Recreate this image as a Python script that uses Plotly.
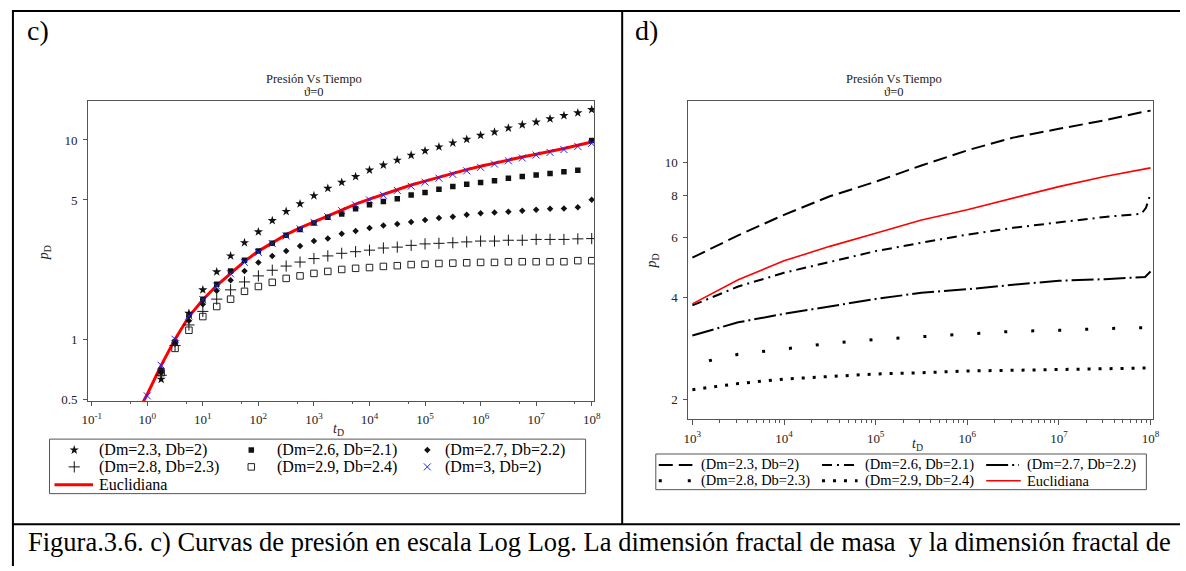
import plotly.graph_objects as go

W, H = 1186, 571
SERIF = "Liberation Serif, Times New Roman, serif"

# ---------------- panel c : sampled points (log10 tD exponents) ----------------
exp_c = [0.25, 0.5, 0.75, 1.0, 1.25, 1.5, 1.75, 2.0, 2.25, 2.5, 2.75, 3.0,
         3.25, 3.5, 3.75, 4.0, 4.25, 4.5, 4.75, 5.0, 5.25, 5.5, 5.75, 6.0,
         6.25, 6.5, 6.75, 7.0, 7.25, 7.5, 7.75, 8.0]

pd_23_c = [0.63, 0.97, 1.35, 1.77, 2.18, 2.62, 3.05, 3.46, 3.94, 4.38, 4.78, 5.25,
           5.72, 6.13, 6.55, 7.06, 7.48, 7.92, 8.38, 8.82, 9.23, 9.66, 10.07, 10.55,
           10.96, 11.48, 11.92, 12.30, 12.77, 13.26, 13.68, 14.20]
pd_26_c = [0.70, 0.97, 1.32, 1.59, 1.89, 2.20, 2.49, 2.77, 3.03, 3.33, 3.55, 3.83,
           4.09, 4.25, 4.52, 4.73, 4.91, 5.07, 5.30, 5.45, 5.66, 5.84, 6.00, 6.11,
           6.25, 6.42, 6.55, 6.67, 6.78, 6.93, 7.04, 9.95]
pd_27_c = [0.68, 0.95, 1.24, 1.50, 1.75, 1.98, 2.20, 2.43, 2.62, 2.77, 2.94, 3.11,
           3.20, 3.38, 3.49, 3.62, 3.72, 3.79, 3.88, 3.97, 4.06, 4.12, 4.22, 4.29,
           4.32, 4.37, 4.42, 4.47, 4.52, 4.53, 4.59, 5.01]
pd_28_c = [0.66, 0.93, 1.18, 1.38, 1.59, 1.77, 1.94, 2.08, 2.22, 2.33, 2.44, 2.54,
           2.62, 2.70, 2.75, 2.80, 2.87, 2.90, 2.96, 3.01, 3.03, 3.05, 3.08, 3.11,
           3.11, 3.14, 3.14, 3.17, 3.17, 3.17, 3.19, 3.20]
pd_29_c = [0.68, 0.90, 1.11, 1.30, 1.46, 1.59, 1.74, 1.84, 1.93, 2.02, 2.08, 2.14,
           2.19, 2.24, 2.27, 2.29, 2.32, 2.34, 2.37, 2.38, 2.40, 2.41, 2.42, 2.43,
           2.43, 2.45, 2.45, 2.45, 2.45, 2.45, 2.48, 2.48]

exp_c3 = [0.0] + exp_c
pd_30_c = [0.52, 0.74, 1.00, 1.31, 1.58, 1.85, 2.13, 2.43, 2.73, 3.02, 3.30, 3.58,
           3.86, 4.12, 4.42, 4.72, 5.00, 5.28, 5.58, 5.86, 6.14, 6.43, 6.72, 7.00,
           7.29, 7.57, 7.86, 8.12, 8.40, 8.66, 8.95, 9.28, 9.62]

exp_eu_c = [-0.1, 0.0] + exp_c
pd_eu_c = [0.47, 0.53, 0.74, 1.00, 1.30, 1.58, 1.86, 2.15, 2.46, 2.77, 3.06, 3.35,
           3.62, 3.88, 4.15, 4.46, 4.77, 5.05, 5.34, 5.65, 5.94, 6.22, 6.51, 6.81,
           7.10, 7.38, 7.67, 7.96, 8.22, 8.48, 8.75, 9.06, 9.40, 9.77]

# ---------------- panel d : curves for tD >= 1e3 ----------------
exp_d = [3.0, 3.5, 4.0, 4.5, 5.0, 5.5, 6.0, 6.5, 7.0, 7.5, 7.9, 8.0]
pd_23_d = [5.24, 6.10, 7.01, 7.95, 8.78, 9.80, 10.86, 11.84, 12.57, 13.32, 14.06, 14.22]

exp_26_d = [3.0, 3.5, 4.0, 4.5, 5.0, 5.5, 6.0, 6.5, 7.0, 7.5, 7.9, 7.95, 8.0]
pd_26_d = [3.79, 4.31, 4.73, 5.10, 5.48, 5.80, 6.13, 6.42, 6.67, 6.91, 7.06, 7.35, 8.11]

exp_27_d = [3.0, 3.5, 4.0, 4.5, 5.0, 5.5, 6.0, 6.5, 7.0, 7.5, 7.94, 8.0]
pd_27_d = [3.09, 3.38, 3.58, 3.77, 3.96, 4.13, 4.23, 4.36, 4.48, 4.53, 4.60, 4.77]

exp_lo_d = [3.0, 3.5, 4.0, 4.5, 5.0, 5.5, 6.0, 6.5, 7.0, 7.5, 8.0]
pd_28_d = [2.54, 2.72, 2.82, 2.93, 3.01, 3.07, 3.13, 3.18, 3.20, 3.24, 3.26]
pd_29_d = [2.14, 2.23, 2.30, 2.34, 2.38, 2.40, 2.43, 2.44, 2.45, 2.46, 2.48]
pd_eu_d = [3.83, 4.51, 5.13, 5.66, 6.19, 6.77, 7.26, 7.86, 8.49, 9.09, 9.64]

# legend labels
lab_23 = "(Dm=2.3, Db=2)"
lab_26 = "(Dm=2.6, Db=2.1)"
lab_27 = "(Dm=2.7, Db=2.2)"
lab_28 = "(Dm=2.8, Db=2.3)"
lab_29 = "(Dm=2.9, Db=2.4)"
lab_30 = "(Dm=3, Db=2)"
lab_eu = "Euclidiana"

caption = ("Figura.3.6. c) Curvas de presión en escala Log Log. "
           "La dimensión fractal de masa  y la dimensión fractal de")

c_xticks = [-1, 0, 1, 2, 3, 4, 5, 6, 7, 8]
c_yticks = [0.5, 1, 5, 10]
d_xticks = [3, 4, 5, 6, 7, 8]
d_yticks = [2, 4, 6, 8, 10]


def tvals(exps):
    return [10 ** e for e in exps]


# marker styles shared by the plot and its legend
M_23 = dict(symbol="star", size=7, color="#111")
M_26 = dict(symbol="square", size=5.5, color="#111")
M_27 = dict(symbol="diamond", size=5, color="#111")
M_28 = dict(symbol="cross-thin", size=8, line=dict(color="#111", width=1))
M_29 = dict(symbol="square-open", size=6.5, color="#222", line=dict(width=1))
M_30 = dict(symbol="x-thin", size=7, line=dict(color="#2020ff", width=1))

fig = go.Figure()

# ---- panel c markers ----
mk = dict(mode="markers", xaxis="x", yaxis="y", showlegend=False, hoverinfo="skip")
fig.add_trace(go.Scatter(x=tvals(exp_eu_c), y=pd_eu_c, mode="lines", xaxis="x", yaxis="y",
                         line=dict(color="#ff0000", width=3), showlegend=False))
fig.add_trace(go.Scatter(x=tvals(exp_c), y=pd_23_c, marker=M_23, **mk))
fig.add_trace(go.Scatter(x=tvals(exp_c), y=pd_26_c, marker=M_26, **mk))
fig.add_trace(go.Scatter(x=tvals(exp_c), y=pd_27_c, marker=M_27, **mk))
fig.add_trace(go.Scatter(x=tvals(exp_c), y=pd_28_c, marker=M_28, **mk))
fig.add_trace(go.Scatter(x=tvals(exp_c), y=pd_29_c, marker=M_29, **mk))
fig.add_trace(go.Scatter(x=tvals(exp_c3), y=pd_30_c, marker=M_30, **mk))

# ---- panel d curves ----
DASH_23 = "14px,6px"
DASH_26 = "10px,5px,2px,5px"
DASH_27 = "22px,4px,2px,4px"
DASH_28 = "0px,17px,3px,7px"
DASH_29 = "3px,8px"
ln = dict(mode="lines", xaxis="x2", yaxis="y2", showlegend=False, hoverinfo="skip")
fig.add_trace(go.Scatter(x=tvals(exp_d), y=pd_23_d, line=dict(color="black", width=2, dash=DASH_23), **ln))
fig.add_trace(go.Scatter(x=tvals(exp_26_d), y=pd_26_d, line=dict(color="black", width=2, dash=DASH_26), **ln))
fig.add_trace(go.Scatter(x=tvals(exp_27_d), y=pd_27_d, line=dict(color="black", width=2, dash=DASH_27), **ln))
fig.add_trace(go.Scatter(x=tvals(exp_lo_d), y=pd_28_d, line=dict(color="black", width=3, dash=DASH_28), **ln))
fig.add_trace(go.Scatter(x=tvals(exp_lo_d), y=pd_29_d, line=dict(color="black", width=3, dash=DASH_29), **ln))
fig.add_trace(go.Scatter(x=tvals(exp_lo_d), y=pd_eu_d, line=dict(color="#ff0000", width=1.6), **ln))

# ---- legend samples drawn on a page-sized overlay axis (pixel units) ----
ov = dict(xaxis="x3", yaxis="y3", showlegend=False, hoverinfo="skip")
for (px, py), m in [((68, 454), M_23), ((247, 454), M_26), ((425, 454), M_27),
                    ((68, 471), M_28), ((247, 471), M_29), ((425, 471), M_30)]:
    fig.add_trace(go.Scatter(x=[px], y=[py], mode="markers", marker=m, **ov))
fig.add_trace(go.Scatter(x=[48, 87], y=[489, 489], mode="lines", line=dict(color="#ff0000", width=3), **ov))

fig.add_trace(go.Scatter(x=[659, 693], y=[469, 469], mode="lines", line=dict(color="black", width=2, dash=DASH_23), **ov))
fig.add_trace(go.Scatter(x=[824, 859], y=[469, 469], mode="lines", line=dict(color="black", width=2, dash=DASH_26), **ov))
fig.add_trace(go.Scatter(x=[990, 1023], y=[469, 469], mode="lines", line=dict(color="black", width=2, dash=DASH_27), **ov))
fig.add_trace(go.Scatter(x=[659, 693], y=[485, 485], mode="lines", line=dict(color="black", width=3, dash="3px,26px"), **ov))
fig.add_trace(go.Scatter(x=[824, 860], y=[485, 485], mode="lines", line=dict(color="black", width=3, dash=DASH_29), **ov))
fig.add_trace(go.Scatter(x=[990, 1025], y=[485, 485], mode="lines", line=dict(color="#ff0000", width=1.6), **ov))


def fx(px):
    return px / W


def fy(py):
    return 1 - py / H


tickfont = dict(family=SERIF, size=13, color="#222")
axis_common = dict(type="log", showgrid=False, zeroline=False, showline=True, mirror=True,
                   linecolor="#555", linewidth=1, ticks="outside", tickcolor="#555",
                   tickfont=tickfont, fixedrange=True)

fig.update_layout(
    width=W, height=H,
    margin=dict(l=0, r=0, t=0, b=0),
    paper_bgcolor="white", plot_bgcolor="rgba(0,0,0,0)",
    showlegend=False,
    xaxis=dict(axis_common, domain=[fx(82), fx(594)], range=[-1.065, 8.05], anchor="y",
               tickvals=[10 ** e for e in c_xticks],
               ticktext=[f"10<sup>{e}</sup>" for e in c_xticks],
               ticklen=4, ticklabelstandoff=2,
               minor=dict(tickvals=[5 * 10 ** e for e in c_xticks[:-1]], ticklen=2,
                          ticks="outside", tickcolor="#555")),
    yaxis=dict(axis_common, domain=[fy(405), fy(102)], range=[-0.312, 1.195], anchor="x",
               tickvals=c_yticks, ticktext=[str(v) for v in c_yticks],
               ticklen=4, ticklabelstandoff=3),
    xaxis2=dict(axis_common, domain=[fx(689), fx(1159)], range=[2.957, 8.03], anchor="y2",
                tickvals=[10 ** e for e in d_xticks],
                ticktext=[f"10<sup>{e}</sup>" for e in d_xticks],
                ticklen=5, ticklabelstandoff=2,
                minor=dict(dtick="D1", ticklen=3, ticks="outside", tickcolor="#555")),
    yaxis2=dict(axis_common, domain=[fy(423), fy(102)], range=[0.243, 1.181], anchor="x2",
                tickvals=d_yticks, ticktext=[str(v) for v in d_yticks],
                ticklen=4, ticklabelstandoff=3),
    xaxis3=dict(domain=[0, 1], range=[0, W], visible=False, fixedrange=True, anchor="y3"),
    yaxis3=dict(domain=[0, 1], range=[H, 0], visible=False, fixedrange=True, anchor="x3"),
)

# ---- page frame (table rules) and legend boxes ----
rule = dict(type="line", xref="x3", yref="y3", line=dict(color="black", width=2), layer="above")
shapes = [
    dict(rule, x0=5, x1=W, y0=11, y1=11),
    dict(rule, x0=6, x1=6, y0=11, y1=H),
    dict(rule, x0=622, x1=622, y0=11, y1=529),
    dict(rule, x0=6, x1=W, y0=529, y1=529),
    dict(type="rect", xref="x3", yref="y3", x0=43, x1=585, y0=443, y1=498,
         line=dict(color="#555", width=1), layer="below"),
    dict(type="rect", xref="x3", yref="y3", x0=656, x1=1152, y0=458, y1=494,
         line=dict(color="#555", width=1), layer="below"),
]
fig.update_layout(shapes=shapes)


def txt(x, y, s, size, xanchor="center", angle=0, color="black"):
    return dict(x=x, y=y, xref="x3", yref="y3", text=s, showarrow=False, xanchor=xanchor,
                yanchor="middle", textangle=angle, font=dict(family=SERIF, size=size, color=color))


ann = [
    txt(18, 31, "c)", 28, "left"),
    txt(633, 31, "d)", 28, "left"),
    txt(310, 80, "Presión Vs Tiempo", 12.5, color="#222"),
    txt(310, 93, "ϑ=0", 12.5, color="#222"),
    txt(897, 80, "Presión Vs Tiempo", 12.5, color="#222"),
    txt(897, 93, "ϑ=0", 12.5, color="#222"),
    txt(38, 255, "<i>p</i><sub>D</sub>", 14, angle=-90, color="#222"),
    txt(653, 263, "<i>p</i><sub>D</sub>", 14, angle=-90, color="#222"),
    txt(335, 433, "<i>t</i><sub>D</sub>", 14, color="#222"),
    txt(921, 448, "<i>t</i><sub>D</sub>", 14, color="#222"),
    # legend c
    txt(91, 454, lab_23, 16, "left"),
    txt(271, 454, lab_26, 16, "left"),
    txt(441, 454, lab_27, 16, "left"),
    txt(91, 471, lab_28, 16, "left"),
    txt(271, 471, lab_29, 16, "left"),
    txt(441, 471, lab_30, 16, "left"),
    txt(91, 489, lab_eu, 16, "left"),
    # legend d
    txt(700, 469, lab_23, 14.5, "left"),
    txt(865, 469, lab_26, 14.5, "left"),
    txt(1029, 469, lab_27, 14.5, "left"),
    txt(700, 485, lab_28, 14.5, "left"),
    txt(865, 485, lab_29, 14.5, "left"),
    txt(1029, 485, lab_eu, 14.5, "left"),
    # caption
    txt(19, 547, caption, 26.5, "left"),
]
fig.update_layout(annotations=ann)

fig.write_html("out.html")
